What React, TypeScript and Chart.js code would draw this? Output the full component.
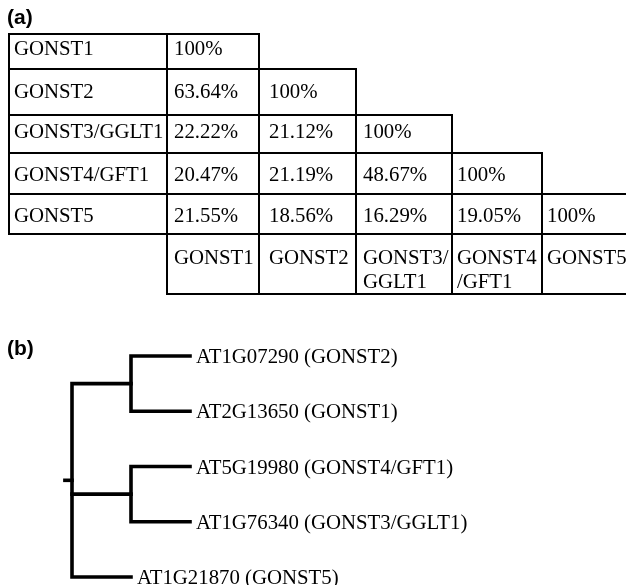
import React, { useEffect, useRef } from "react";
import Chart from "chart.js/auto";

// ---------- DATA ----------
const genes = ["GONST1", "GONST2", "GONST3/GGLT1", "GONST4/GFT1", "GONST5"];
const headerLabels = [["GONST1"], ["GONST2"], ["GONST3/", "GGLT1"], ["GONST4", "/GFT1"], ["GONST5"]];
const identityGONST1 = [100];
const identityGONST2 = [63.64, 100];
const identityGONST3 = [22.22, 21.12, 100];
const identityGONST4 = [20.47, 21.19, 48.67, 100];
const identityGONST5 = [21.55, 18.56, 16.29, 19.05, 100];
const identity = [identityGONST1, identityGONST2, identityGONST3, identityGONST4, identityGONST5];

const leafLabels = [
  "AT1G07290 (GONST2)",
  "AT2G13650 (GONST1)",
  "AT5G19980 (GONST4/GFT1)",
  "AT1G76340 (GONST3/GGLT1)",
  "AT1G21870 (GONST5)",
];
const clades = [
  [0, 1],
  [2, 3],
];
const outgroupLeaf = 4;

// ---------- LAYOUT / STYLE ----------
const W = 626;
const TABLE_H = 300;
const TREE_H = 285;
const colEdges = [9, 167, 259, 356, 452, 542, 626];
const colTextPad = [5, 7, 10, 7, 5, 5];
const rowEdges = [34, 69, 115, 153, 194, 234, 294];
const rowBaseline = [55, 98, 138, 181, 222, 264];
const headerLineGap = 24;
const SERIF = '20.8px "Liberation Serif", "Times New Roman", serif';
const PANEL = 'bold 21px "Liberation Sans", Arial, sans-serif';
const INK = "#000";
const ROOT_TICK = 0.12;

function seg(points: { x: number; y: number }[], width: number) {
  return {
    data: points,
    showLine: true,
    borderColor: INK,
    backgroundColor: INK,
    borderWidth: width,
    pointRadius: 0,
    pointHoverRadius: 0,
    borderCapStyle: "square" as const,
    borderJoinStyle: "miter" as const,
    tension: 0,
    clip: false as const,
  };
}

function tableSegments() {
  const s: { x: number; y: number }[][] = [];
  const L = colEdges[0];
  const R = colEdges[colEdges.length - 1];
  for (let i = 0; i < identity.length; i++) {
    s.push([{ x: L, y: rowEdges[i] }, { x: colEdges[i + 2], y: rowEdges[i] }]);
  }
  s.push([{ x: L, y: rowEdges[5] }, { x: R, y: rowEdges[5] }]);
  s.push([{ x: colEdges[1], y: rowEdges[6] }, { x: R, y: rowEdges[6] }]);
  s.push([{ x: L, y: rowEdges[0] }, { x: L, y: rowEdges[5] }]);
  for (let j = 1; j <= 5; j++) {
    s.push([{ x: colEdges[j], y: rowEdges[Math.max(0, j - 2)] }, { x: colEdges[j], y: rowEdges[6] }]);
  }
  return s;
}

function treeGeometry() {
  const paths: { x: number; y: number }[][] = [];
  const childYs: number[] = [];
  clades.forEach(([a, b]) => {
    paths.push([
      { x: 2, y: a },
      { x: 1, y: a },
      { x: 1, y: b },
      { x: 2, y: b },
    ]);
    childYs.push((a + b) / 2);
  });
  childYs.push(outgroupLeaf);
  const top = Math.min(...childYs);
  const bot = Math.max(...childYs);
  paths.push([
    { x: 1, y: top },
    { x: 0, y: top },
    { x: 0, y: bot },
    { x: 1, y: bot },
  ]);
  childYs.forEach((cy) => {
    if (cy !== top && cy !== bot) paths.push([{ x: 0, y: cy }, { x: 1, y: cy }]);
  });
  const mid = (top + bot) / 2;
  paths.push([{ x: -ROOT_TICK, y: mid }, { x: 0, y: mid }]);
  return paths;
}

const leafDepth = leafLabels.map((_, i) => (i === outgroupLeaf ? 1 : 2));

export default function App() {
  const tableRef = useRef<HTMLCanvasElement | null>(null);
  const treeRef = useRef<HTMLCanvasElement | null>(null);

  useEffect(() => {
    const tablePlugin = {
      id: "tableText",
      afterDatasetsDraw(chart: any) {
        const { ctx, scales } = chart;
        const X = (v: number) => scales.x.getPixelForValue(v);
        const Y = (v: number) => scales.y.getPixelForValue(v);
        ctx.save();
        ctx.fillStyle = INK;
        ctx.textBaseline = "alphabetic";
        ctx.textAlign = "left";
        ctx.font = PANEL;
        ctx.fillText("(a)", X(7), Y(24));
        ctx.font = SERIF;
        genes.forEach((g, i) => {
          ctx.fillText(g, X(colEdges[0] + colTextPad[0]), Y(rowBaseline[i]));
          identity[i].forEach((v, j) => {
            const t = v === 100 ? "100%" : v.toFixed(2) + "%";
            ctx.fillText(t, X(colEdges[j + 1] + colTextPad[j + 1]), Y(rowBaseline[i]));
          });
        });
        headerLabels.forEach((lines, j) => {
          lines.forEach((ln, k) => {
            ctx.fillText(ln, X(colEdges[j + 1] + colTextPad[j + 1]), Y(rowBaseline[5] + k * headerLineGap));
          });
        });
        ctx.restore();
      },
    };

    const treePlugin = {
      id: "treeText",
      afterDatasetsDraw(chart: any) {
        const { ctx, scales } = chart;
        ctx.save();
        ctx.fillStyle = INK;
        ctx.textAlign = "left";
        ctx.textBaseline = "alphabetic";
        ctx.font = PANEL;
        ctx.fillText("(b)", 7, 54.5);
        ctx.font = SERIF;
        leafLabels.forEach((lab, i) => {
          ctx.fillText(lab, scales.x.getPixelForValue(leafDepth[i]) + 6, scales.y.getPixelForValue(i) + 7);
        });
        ctx.restore();
      },
    };

    const common = {
      responsive: false,
      maintainAspectRatio: false,
      animation: false as const,
      devicePixelRatio: 1,
      events: [] as any[],
      plugins: { legend: { display: false }, tooltip: { enabled: false }, title: { display: false } },
    };

    const tableChart = new Chart(tableRef.current as HTMLCanvasElement, {
      type: "scatter",
      data: { datasets: tableSegments().map((p) => seg(p, 2)) as any },
      options: {
        ...common,
        layout: { padding: 0 },
        scales: {
          x: { type: "linear", min: 0, max: W, display: false },
          y: { type: "linear", min: 0, max: TABLE_H, reverse: true, display: false },
        },
      } as any,
      plugins: [tablePlugin],
    });

    const treeChart = new Chart(treeRef.current as HTMLCanvasElement, {
      type: "scatter",
      data: { datasets: treeGeometry().map((p) => seg(p, 3.6)) as any },
      options: {
        ...common,
        layout: { padding: { left: 72, right: W - 190, top: 56, bottom: 8 } },
        scales: {
          x: { type: "linear", min: 0, max: 2, display: false },
          y: { type: "linear", min: 0, max: leafLabels.length - 1, reverse: true, display: false },
        },
      } as any,
      plugins: [treePlugin],
    });

    let alive = true;
    if ((document as any).fonts && (document as any).fonts.ready) {
      (document as any).fonts.ready.then(() => {
        if (alive) {
          tableChart.draw();
          treeChart.draw();
        }
      });
    }

    return () => {
      alive = false;
      tableChart.destroy();
      treeChart.destroy();
    };
  }, []);

  return (
    <div style={{ position: "absolute", left: 0, top: 0, width: W, height: TABLE_H + TREE_H, background: "#fff" }}>
      <canvas ref={tableRef} width={W} height={TABLE_H} style={{ display: "block", width: W, height: TABLE_H }} />
      <canvas ref={treeRef} width={W} height={TREE_H} style={{ display: "block", width: W, height: TREE_H }} />
    </div>
  );
}
